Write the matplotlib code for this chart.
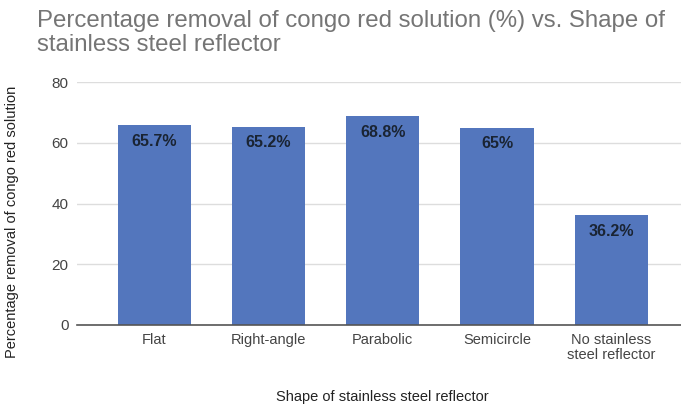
import matplotlib.pyplot as plt

# Removal efficiency for each reflector shape
shapes = ['Flat', 'Right-angle', 'Parabolic', 'Semicircle', 'No stainless\nsteel reflector']
removal = [65.7, 65.2, 68.8, 65, 36.2]
labels = ['65.7%', '65.2%', '68.8%', '65%', '36.2%']
yticks = [0, 20, 40, 60, 80]

plt.rcParams['font.family'] = ['Liberation Sans', 'DejaVu Sans']

W, H = 681, 408
fig = plt.figure(figsize=(W / 100, H / 100), dpi=100)
# axes box in pixel coordinates: left 77, right 681, bottom y=325, top y=82
ax = fig.add_axes([77 / W, 1 - 325 / H, (681 - 77) / W, (325 - 82) / H])

x = list(range(len(shapes)))
bars = ax.bar(x, removal, width=0.64, color='#5376bd', zorder=2)

for b, txt in zip(bars, labels):
    ax.annotate(txt, (b.get_x() + b.get_width() / 2, b.get_height()),
                xytext=(0, -16), textcoords='offset pixels',
                ha='center', va='center', fontsize=11.5, fontweight='bold',
                color='#1a2433', zorder=3)

ax.set_xlim(-0.675, 4.61)
ax.set_ylim(0, 80)
ax.set_yticks(yticks)
ax.set_xticks(x)
ax.set_xticklabels(shapes, fontsize=10.5, color='#444444', linespacing=1.05)
ax.tick_params(axis='y', labelsize=11, colors='#444444', length=0, pad=6)
ax.tick_params(axis='x', length=0, pad=6)
ax.grid(axis='y', color='#dddddd', linewidth=1, zorder=0)
for s in ['top', 'right', 'left']:
    ax.spines[s].set_visible(False)
ax.spines['bottom'].set_color('#555555')
ax.spines['bottom'].set_linewidth(1.2)
ax.spines['bottom'].set_zorder(4)

fig.text(12 / W, 1 - 222 / H, 'Percentage removal of congo red solution',
         rotation=90, ha='center', va='center', fontsize=10.5, color='#222222')
fig.text(382 / W, 1 - 397 / H, 'Shape of stainless steel reflector',
         ha='center', va='center', fontsize=10.5, color='#222222')
fig.text(37 / W, 1 - 33 / H,
         'Percentage removal of congo red solution (%) vs. Shape of\nstainless steel reflector',
         ha='left', va='center', fontsize=17.3, color='#757575', linespacing=1.1)

fig.savefig('out.png', dpi=100)
